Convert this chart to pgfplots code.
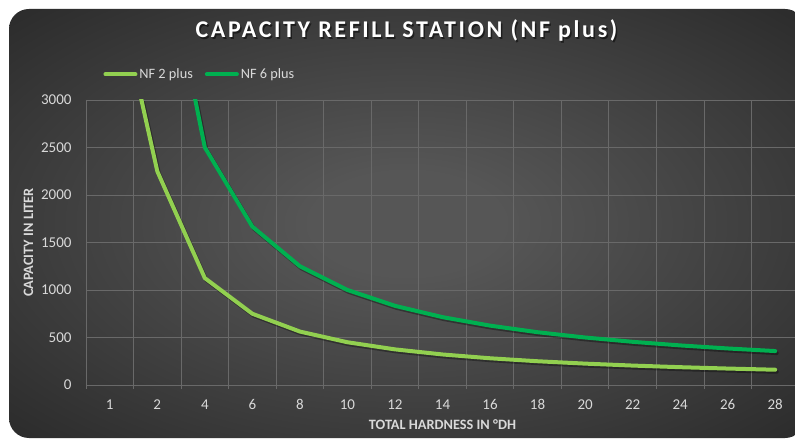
\documentclass[border=0pt]{standalone}
\usepackage{fontspec}
\setmainfont{Carlito}
\usepackage{pgfplots}
\pgfplotsset{compat=1.18}

\definecolor{nftwo}{RGB}{146,208,80}
\definecolor{nfsix}{RGB}{0,176,80}
\definecolor{gridc}{RGB}{105,105,105}
\definecolor{txtc}{RGB}{217,217,217}
\definecolor{bgin}{RGB}{86,86,86}
\definecolor{bgout}{RGB}{22,22,22}

\pgfdeclareradialshading{bgshade}{\pgfpoint{0bp}{0bp}}{%
  color(0bp)=(bgin); color(6bp)=(bgin);
  color(50bp)=(bgout)}

\begin{document}
\begin{tikzpicture}
\useasboundingbox (0,0) rectangle (795pt,442pt);
\fill[white] (0,0) rectangle (795pt,442pt);
\shade[shading=bgshade, rounded corners=20pt] (9pt,4pt) rectangle (805pt,433pt);

\node[font=\bfseries\fontsize{24}{28}\selectfont\addfontfeature{LetterSpace=11}, text=black, opacity=0.5] at (408pt,410pt) {CAPACITY REFILL STATION (NF plus)};
\node[font=\bfseries\fontsize{24}{28}\selectfont\addfontfeature{LetterSpace=11}, text=white] at (406.5pt,411.5pt) {CAPACITY REFILL STATION (NF plus)};

\begin{axis}[
    at={(86pt,57pt)}, anchor=south west,
    scale only axis,
    width=713pt, height=285pt,
    xmin=-0.5, xmax=14.5,
    ymin=0, ymax=3000,
    clip mode=individual,
    axis line style={draw=none},
    xtick={0,...,14},
    xticklabels={1,2,4,6,8,10,12,14,16,18,20,22,24,26,28},
    minor xtick={-0.5,0.5,...,14.5},
    xtick pos=bottom,
    ytick pos=left,
    major tick length=0pt,
    minor tick length=4pt,
    tick align=outside,
    minor tick style={gridc, line width=0.8pt},
    xminorgrids, ymajorgrids,
    grid style={gridc, line width=0.8pt},
    minor grid style={gridc, line width=0.8pt},
    ytick={0,500,...,3000},
    /pgf/number format/1000 sep={},
    /pgf/number format/assume math mode=true,
    ticklabel style={text=txtc, font=\fontsize{15}{17}\selectfont},
    xticklabel style={yshift=-11pt},
    yticklabel style={xshift=-11pt},
    xlabel={TOTAL HARDNESS IN °DH},
    ylabel={CAPACITY IN LITER},
    label style={text=txtc, font=\bfseries\fontsize{14.3}{16}\selectfont},
    xlabel style={yshift=-3pt},
    ylabel style={yshift=1pt},
    legend style={at={(0.02,1.09)}, anchor=west, draw=none, fill=none,
        text=txtc, font=\fontsize{14.3}{16}\selectfont, legend columns=-1,
        /tikz/every even column/.append style={column sep=10pt}},
    legend image code/.code={\draw[#1, line width=4pt, line cap=round] (0pt,0pt) -- (30pt,0pt);},
    legend cell align=left,
    every axis plot/.append style={line width=4pt, line join=round, line cap=round},
]
% shadows
\addplot[black, opacity=0.35, forget plot, transform canvas={shift={(1.5pt,-2pt)}}] coordinates {
(0,4500) (1,2250) (2,1125) (3,750) (4,562.5) (5,450) (6,375) (7,321.4) (8,281.3) (9,250) (10,225) (11,204.5) (12,187.5) (13,173.1) (14,160.7)};
\addplot[black, opacity=0.35, forget plot, transform canvas={shift={(1.5pt,-2pt)}}] coordinates {
(0,10000) (1,5000) (2,2500) (3,1666.7) (4,1250) (5,1000) (6,833.3) (7,714.3) (8,625) (9,555.6) (10,500) (11,454.5) (12,416.7) (13,384.6) (14,357.1)};

\addplot[nftwo] coordinates {
(0,4500) (1,2250) (2,1125) (3,750) (4,562.5) (5,450) (6,375) (7,321.4) (8,281.3) (9,250) (10,225) (11,204.5) (12,187.5) (13,173.1) (14,160.7)};
\addlegendentry{NF 2 plus}
\addplot[nfsix] coordinates {
(0,10000) (1,5000) (2,2500) (3,1666.7) (4,1250) (5,1000) (6,833.3) (7,714.3) (8,625) (9,555.6) (10,500) (11,454.5) (12,416.7) (13,384.6) (14,357.1)};
\addlegendentry{NF 6 plus}
\end{axis}
\end{tikzpicture}
\end{document}
